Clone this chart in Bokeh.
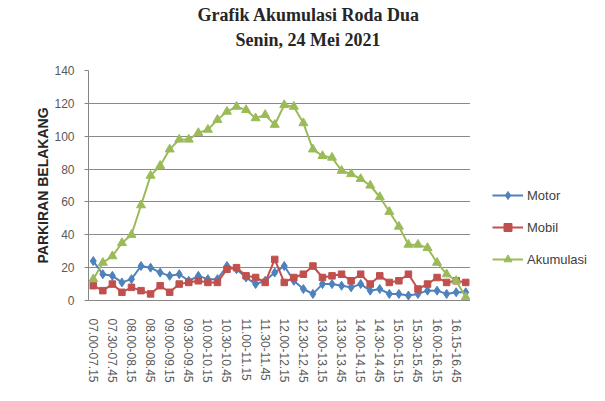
from bokeh.plotting import figure
from bokeh.layouts import row
from bokeh.models import Legend, LegendItem, Title, FixedTicker, Range1d
from bokeh.embed import file_html
from bokeh.resources import INLINE

title_line1 = "Grafik  Akumulasi  Roda Dua"
title_line2 = "Senin, 24 Mei 2021"
y_label = "PARKIRAN BELAKANG"

categories = [
    "07.00-07.15", "07.15-07.30", "07.30-07.45", "07.45-08.00",
    "08.00-08.15", "08.15-08.30", "08.30-08.45", "08.45-09.00",
    "09.00-09.15", "09.15-09.30", "09.30-09.45", "09.45-10.00",
    "10.00-10.15", "10.15-10.30", "10.30-10.45", "10.45-11.00",
    "11.00-11.15", "11.15-11.30", "11.30-11.45", "11.45-12.00",
    "12.00-12.15", "12.15-12.30", "12.30-12.45", "12.45-13.00",
    "13.00-13.15", "13.15-13.30", "13.30-13.45", "13.45-14.00",
    "14.00-14.15", "14.15-14.30", "14.30-14.45", "14.45-15.00",
    "15.00-15.15", "15.15-15.30", "15.30-15.45", "15.45-16.00",
    "16.00-16.15", "16.15-16.30", "16.15-16.45", "16.45-17.00",
]

motor = [24, 16, 15, 11, 13, 21, 20, 17, 15, 16, 12, 15, 13, 13, 21, 19, 14, 10, 12, 17,
         21, 12, 7, 4, 10, 10, 9, 8, 10, 6, 7, 4, 4, 3, 4, 6, 6, 4, 5, 5]
mobil = [9, 6, 10, 5, 8, 6, 4, 9, 5, 10, 11, 12, 11, 11, 19, 20, 15, 14, 11, 25,
         11, 14, 16, 21, 14, 15, 16, 12, 16, 10, 15, 11, 12, 16, 7, 10, 14, 11, 12, 11]
akumulasi = [13, 23, 27, 35, 40, 58, 76, 82, 92, 98, 98, 102, 104, 110, 115, 118, 116, 111, 113, 107,
             119, 118, 108, 92, 88, 87, 79, 77, 74, 70, 63, 54, 45, 34, 34, 32, 23, 16, 12, 2]

series_names = ["Motor", "Mobil", "Akumulasi"]
y_ticks = [0, 20, 40, 60, 80, 100, 120, 140]

x = list(range(len(categories)))

blue = "#4F81BD"
red = "#C0504D"
green = "#9BBB59"
colors = [blue, red, green]
markers = ["diamond", "square", "triangle"]
marker_sizes = [9, 6.5, 9]
series_values = [motor, mobil, akumulasi]

p = figure(width=470, height=385, output_backend="svg", toolbar_location=None,
           x_range=Range1d(-0.5, len(categories) - 0.5), y_range=Range1d(0, 140),
           min_border_left=88, min_border_right=0, min_border_top=70, min_border_bottom=85)
p.title = None
p.outline_line_color = None
p.background_fill_color = "white"

# axes
p.yaxis.ticker = FixedTicker(ticks=y_ticks)
p.yaxis.axis_label = y_label
p.yaxis.axis_label_text_font = "Liberation Sans"
p.yaxis.axis_label_text_font_style = "bold"
p.yaxis.axis_label_text_font_size = "14px"
p.yaxis.axis_label_text_color = "#262626"
p.yaxis.axis_label_standoff = 0
p.yaxis.major_label_text_font = "Liberation Sans"
p.yaxis.major_label_text_font_size = "12px"
p.yaxis.major_label_text_color = "#595959"
p.yaxis.major_label_standoff = 10
p.yaxis.axis_line_color = "#868686"
p.yaxis.major_tick_line_color = "#868686"
p.yaxis.major_tick_out = 4
p.yaxis.major_tick_in = 0
p.yaxis.minor_tick_line_color = None

even_ticks = [i for i in x if i % 2 == 0]
p.xaxis.ticker = FixedTicker(ticks=even_ticks)
p.xaxis.major_label_overrides = {i: categories[i] for i in even_ticks}
p.xaxis.major_label_orientation = "vertical"
p.xaxis.major_label_text_font = "Liberation Sans"
p.xaxis.major_label_text_font_size = "12px"
p.xaxis.major_label_text_color = "#595959"
p.xaxis.major_label_standoff = 12
p.xaxis.axis_line_color = "#868686"
p.xaxis.major_tick_line_color = None
p.xaxis.minor_tick_line_color = None

p.xgrid.grid_line_color = None
p.ygrid.grid_line_color = "#8a8a8a"
p.ygrid.grid_line_width = 1

# series
for vals, col, mk, sz in zip(series_values, colors, markers, marker_sizes):
    p.line(x, vals, line_color=col, line_width=2)
    p.scatter(x, vals, marker=mk, size=sz, fill_color=col, line_color=col)

# titles (first added sits closest to the plot); a blank spacer title keeps
# the two title lines clear of the plot frame
spacer = Title(text=" ", align="left", standoff=6, text_font_size="10px")
t2 = Title(text=title_line2, align="left", offset=147, standoff=4,
           text_font="Liberation Serif", text_font_size="18px", text_font_style="bold",
           text_color="#262626")
t1 = Title(text=title_line1, align="left", offset=109, standoff=2,
           text_font="Liberation Serif", text_font_size="18px", text_font_style="bold",
           text_color="#262626")
p.add_layout(spacer, "above")
p.add_layout(t2, "above")
p.add_layout(t1, "above")

# legend panel: a separate figure to the right; its series lie outside its view range
q = figure(width=119, height=385, output_backend="svg", toolbar_location=None,
           x_range=Range1d(1000, 1001), y_range=Range1d(0, 140),
           min_border_left=0, min_border_right=0, min_border_top=0, min_border_bottom=0)
q.title = None
q.axis.visible = False
q.grid.visible = False
q.outline_line_color = None

items = []
for name, vals, col, mk, sz in zip(series_names, series_values, colors, markers, marker_sizes):
    lr = q.line(x, vals, line_color=col, line_width=2)
    sr = q.scatter(x, vals, marker=mk, size=sz - 1.5, fill_color=col, line_color=col)
    items.append(LegendItem(label=name, renderers=[lr, sr]))

legend = Legend(items=items, location=(22, 31))
legend.glyph_width = 31
legend.glyph_height = 20
legend.label_height = 20
legend.spacing = 12
legend.label_standoff = 4
legend.padding = 0
legend.margin = 0
legend.label_text_font = "Liberation Sans"
legend.label_text_font_size = "13px"
legend.label_text_color = "#404040"
legend.background_fill_alpha = 0
legend.border_line_alpha = 0
q.add_layout(legend, "center")

open("out.html", "w").write(file_html(row(p, q), INLINE))
